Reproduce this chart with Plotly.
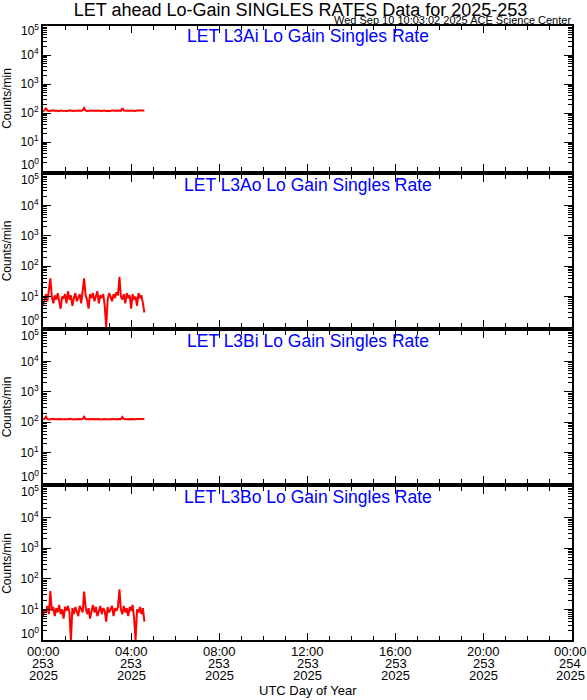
import plotly.graph_objects as go

# ---------------- data ----------------
step_min = 4  # minutes between samples
panel_titles = ["LET L3Ai Lo Gain Singles Rate", "LET L3Ao Lo Gain Singles Rate",
                "LET L3Bi Lo Gain Singles Rate", "LET L3Bo Lo Gain Singles Rate"]

l3ai = [118, 122, 150, 121, 117, 120, 119, 123, 118, 121, 116, 120, 122, 119, 117, 121, 120, 118,
        123, 119, 121, 117, 120, 122, 118, 121, 119, 123, 148, 120, 118, 121, 117, 122, 119, 120,
        118, 123, 121, 117, 120, 119, 122, 118, 121, 120, 117, 123, 119, 121, 118, 120, 122, 119,
        147, 121, 118, 120, 122, 117, 121, 119, 120, 118, 122, 121, 117, 120, 119, 121]
l3ao = [5, 9, 12, 7, 14, 40, 10, 6, 11, 8, 13, 7, 4, 10, 9, 12, 6, 15, 8, 11, 5, 9, 13, 7, 10,
        12, 6, 14, 40, 11, 8, 4, 12, 9, 13, 7, 10, 15, 6, 11, 9, 12, 5, 1.0, 8, 13, 10, 7, 12, 9,
        14, 11, 45, 10, 8, 12, 6, 13, 9, 11, 4, 12, 8, 10, 5, 13, 9, 11, 6, 3]
l3bi = [125, 128, 152, 126, 123, 127, 124, 129, 125, 127, 122, 126, 128, 124, 123, 127, 126, 124,
        129, 125, 127, 123, 126, 128, 124, 127, 125, 129, 150, 126, 124, 127, 123, 128, 125, 126,
        124, 129, 127, 123, 126, 125, 128, 124, 127, 126, 123, 129, 125, 127, 124, 126, 128, 125,
        148, 127, 124, 126, 128, 123, 127, 125, 126, 124, 128, 127, 123, 126, 125, 127]
l3bo = [6, 10, 8, 13, 7, 40, 9, 12, 6, 11, 8, 14, 7, 10, 5, 12, 9, 13, 8, 1.0, 11, 7, 12, 9, 6,
        13, 10, 8, 38, 12, 7, 11, 5, 9, 14, 8, 12, 6, 10, 13, 7, 11, 9, 4, 12, 8, 10, 13, 6, 11,
        9, 12, 45, 10, 7, 13, 8, 11, 6, 12, 9, 14, 5, 1.0, 10, 8, 12, 7, 11, 4]
series = [l3ai, l3ao, l3bi, l3bo]

x_tickvals = [0, 4, 8, 12, 16, 20, 24]
x_tick_time = ["00:00", "04:00", "08:00", "12:00", "16:00", "20:00", "00:00"]
x_tick_doy = ["253", "253", "253", "253", "253", "253", "254"]
x_tick_year = ["2025"] * 7
y_tickvals = [1, 10, 100, 1000, 10000, 100000]
y_ticktext = ["10<sup>0</sup>", "10<sup>1</sup>", "10<sup>2</sup>", "10<sup>3</sup>",
              "10<sup>4</sup>", "10<sup>5</sup>"]

main_title = "LET ahead Lo-Gain SINGLES RATES Data for 2025-253"
sub_title = "Wed Sep 10 10:03:02 2025 ACE Science Center"

# ---------------- figure ----------------
FONT = "Liberation Sans"
W, H = 587, 700
ML, MR, MT, MB = 43, 15, 20, 60
plot_h = H - MT - MB
panels_px = [(26, 171), (175, 327), (331, 483), (487, 640)]
domains = [[(H - MB - b) / plot_h, (H - MB - t) / plot_h] for t, b in panels_px]
domains[3][0] = 0.0

minor_y = [m * 10 ** e for e in range(0, 5) for m in range(2, 10)]

fig = go.Figure()
for i, vals in enumerate(series):
    xs = [k * step_min / 60.0 for k in range(len(vals))]
    fig.add_trace(go.Scatter(x=xs, y=vals, mode="lines",
                             line=dict(color="#ff0000", width=2),
                             xaxis="x" if i == 0 else f"x{i+1}",
                             yaxis="y" if i == 0 else f"y{i+1}",
                             showlegend=False, hoverinfo="skip"))

inner_text = [""] + y_ticktext[1:5] + [""]
for i in range(4):
    xa = "xaxis" if i == 0 else f"xaxis{i+1}"
    ya = "yaxis" if i == 0 else f"yaxis{i+1}"
    yname = "y" if i == 0 else f"y{i+1}"
    xname = "x" if i == 0 else f"x{i+1}"
    fig.layout[xa] = dict(
        domain=[0, 1], anchor=yname, range=[0, 24], automargin=False,
        tickvals=x_tickvals, showticklabels=False,
        ticks="inside", ticklen=7, tickwidth=1, tickcolor="black",
        minor=dict(dtick=1, ticks="inside", ticklen=4, tickcolor="black", showgrid=False),
        showline=True, linewidth=2, linecolor="black", mirror="allticks",
        showgrid=False, zeroline=False,
    )
    fig.layout[ya] = dict(
        domain=domains[i], anchor=xname, type="log", range=[0, 5], automargin=False,
        tickvals=y_tickvals, ticktext=inner_text,
        ticks="inside", ticklen=8, tickwidth=1, tickcolor="black",
        minor=dict(tickvals=minor_y, ticks="inside", ticklen=4, tickcolor="black", showgrid=False),
        showline=True, linewidth=2, linecolor="black", mirror="allticks",
        showgrid=False, zeroline=False,
        tickfont=dict(family=FONT, size=12, color="black"),
        title=dict(text="Counts/min", font=dict(family=FONT, size=12, color="black"), standoff=8),
    )
    fig.add_annotation(text=y_ticktext[0], xref="paper", yref=f"{yname} domain", x=0, y=0,
                       xanchor="right", yanchor="bottom", xshift=-2, yshift=-3, showarrow=False,
                       font=dict(family=FONT, size=12, color="black"))
    fig.add_annotation(text=y_ticktext[5], xref="paper", yref=f"{yname} domain", x=0, y=1,
                       xanchor="right", yanchor="top", xshift=-2, yshift=6, showarrow=False,
                       font=dict(family=FONT, size=12, color="black"))
    fig.add_annotation(text=panel_titles[i], xref="paper", yref=f"{yname} domain",
                       x=0.5, y=1, yshift=2, xanchor="center", yanchor="top",
                       showarrow=False, font=dict(family=FONT, size=17.5, color="#0000ff"))

for k, (xv, t, d, yv) in enumerate(zip(x_tickvals, x_tick_time, x_tick_doy, x_tick_year)):
    for txt, dy in [(t, -11), (d, -23), (yv, -35)]:
        fig.add_annotation(text=txt, xref="x4", yref="paper", x=xv, y=0, yshift=dy,
                           xshift=-2 if k == len(x_tickvals) - 1 else 0,
                           xanchor="center", yanchor="middle", showarrow=False, borderpad=0,
                           font=dict(family=FONT, size=13, color="black"))

fig.add_annotation(text="UTC Day of Year", xref="paper", yref="paper", x=0.5, y=0, yshift=-50,
                   xanchor="center", yanchor="middle", showarrow=False,
                   font=dict(family=FONT, size=13, color="black"))

fig.add_annotation(text=sub_title, xref="paper", yref="y domain", x=1.0, y=1.0, yshift=-1,
                   xanchor="right", yanchor="bottom", showarrow=False, borderpad=0,
                   font=dict(family=FONT, size=11, color="black"))

fig.update_layout(width=W, height=H, margin=dict(l=ML, r=MR, t=MT, b=MB),
                  paper_bgcolor="white", plot_bgcolor="white",
                  font=dict(family=FONT, color="black"),
                  title=dict(text=main_title, x=0.512, xanchor="center", y=0.995, yanchor="top",
                             font=dict(family=FONT, size=18, color="black"), pad=dict(t=0)))

fig.write_html("out.html", config={"displayModeBar": False},
               post_script="document.body.style.margin='0px';document.body.style.overflow='hidden';")
